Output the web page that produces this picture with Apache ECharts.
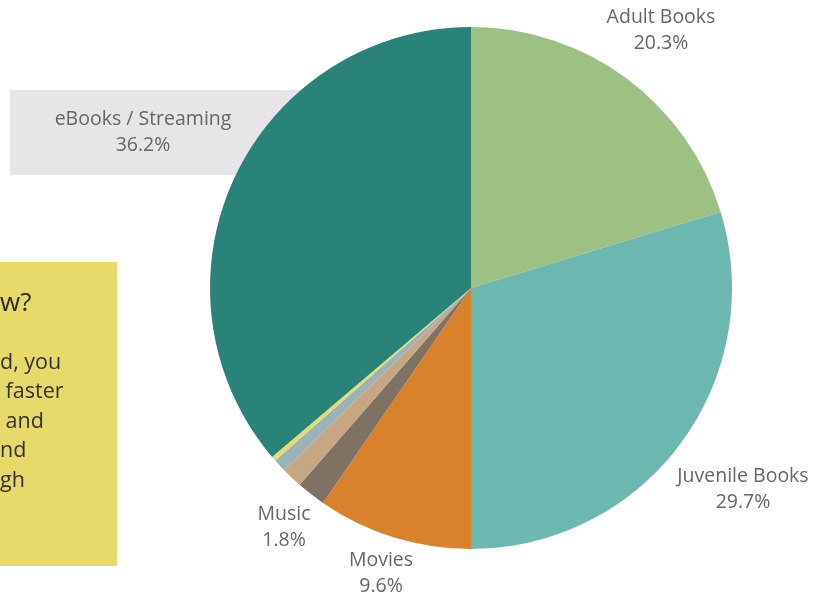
<!DOCTYPE html>
<html>
<head>
<meta charset="utf-8">
<script src="https://cdn.jsdelivr.net/npm/echarts@6/dist/echarts.min.js"></script>
<style>
html,body{margin:0;padding:0;background:#fff;}
#chart{width:830px;height:598px;}
</style>
</head>
<body>
<div id="chart"></div>
<script>
const categories = ['Adult Books','Juvenile Books','Movies','Music','Audiobooks','Other Media','Misc','eBooks / Streaming'];
const shares = [20.3, 29.7, 9.6, 1.8, 1.3, 0.8, 0.3, 36.2];
const showLabel = [true, true, true, true, false, false, false, true];
const sliceColors = ['#9dc183','#6cb8b1','#d9812b','#7f7262','#c6a783','#9bb2b9','#e4dc6c','#2a8379'];
const labelPos = {
  'Adult Books': [661, 30],
  'Juvenile Books': [743, 489],
  'Movies': [381, 573],
  'Music': [284, 527],
  'eBooks / Streaming': [143, 132]
};

const chart = echarts.init(document.getElementById('chart'));
chart.setOption({
  animation: false,
  graphic: [
    { type: 'rect', z: 0, shape: { x: 10, y: 90, width: 300, height: 85 }, style: { fill: '#e6e6e8' } },
    { type: 'rect', z: 0, shape: { x: 0, y: 262, width: 117, height: 304 }, style: { fill: '#e8da6a' } },
    { type: 'text', z: 1, left: 0, top: 291, style: { text: 'w?', fill: '#2b2b2b', font: '500 26px "Open Sans", sans-serif' } },
    { type: 'text', z: 1, left: 0, top: 348, style: { text: 'd, you\n faster\n and\nnd\ngh', fill: '#333', font: '21.5px "Open Sans", sans-serif', lineHeight: 29.5 } }
  ],
  series: [{
    type: 'pie',
    z: 2,
    center: [471, 288],
    radius: [0, 261],
    startAngle: 90,
    clockwise: true,
    avoidLabelOverlap: false,
    itemStyle: { borderWidth: 0 },
    label: {
      show: true,
      position: 'outside',
      formatter: p => p.name + '\n' + p.value.toFixed(1) + '%',
      color: '#666',
      fontFamily: '"Open Sans", sans-serif',
      fontSize: 19.5,
      lineHeight: 26,
      align: 'center'
    },
    labelLine: { show: false },
    labelLayout: function (params) {
      const name = categories[params.dataIndex];
      const pos = labelPos[name];
      if (!pos) return {};
      return { x: pos[0], y: pos[1], align: 'center', verticalAlign: 'middle' };
    },
    emphasis: { disabled: true },
    data: categories.map((c, i) => ({
      name: c,
      value: shares[i],
      itemStyle: { color: sliceColors[i] },
      label: { show: showLabel[i] }
    }))
  }]
});
</script>
</body>
</html>
